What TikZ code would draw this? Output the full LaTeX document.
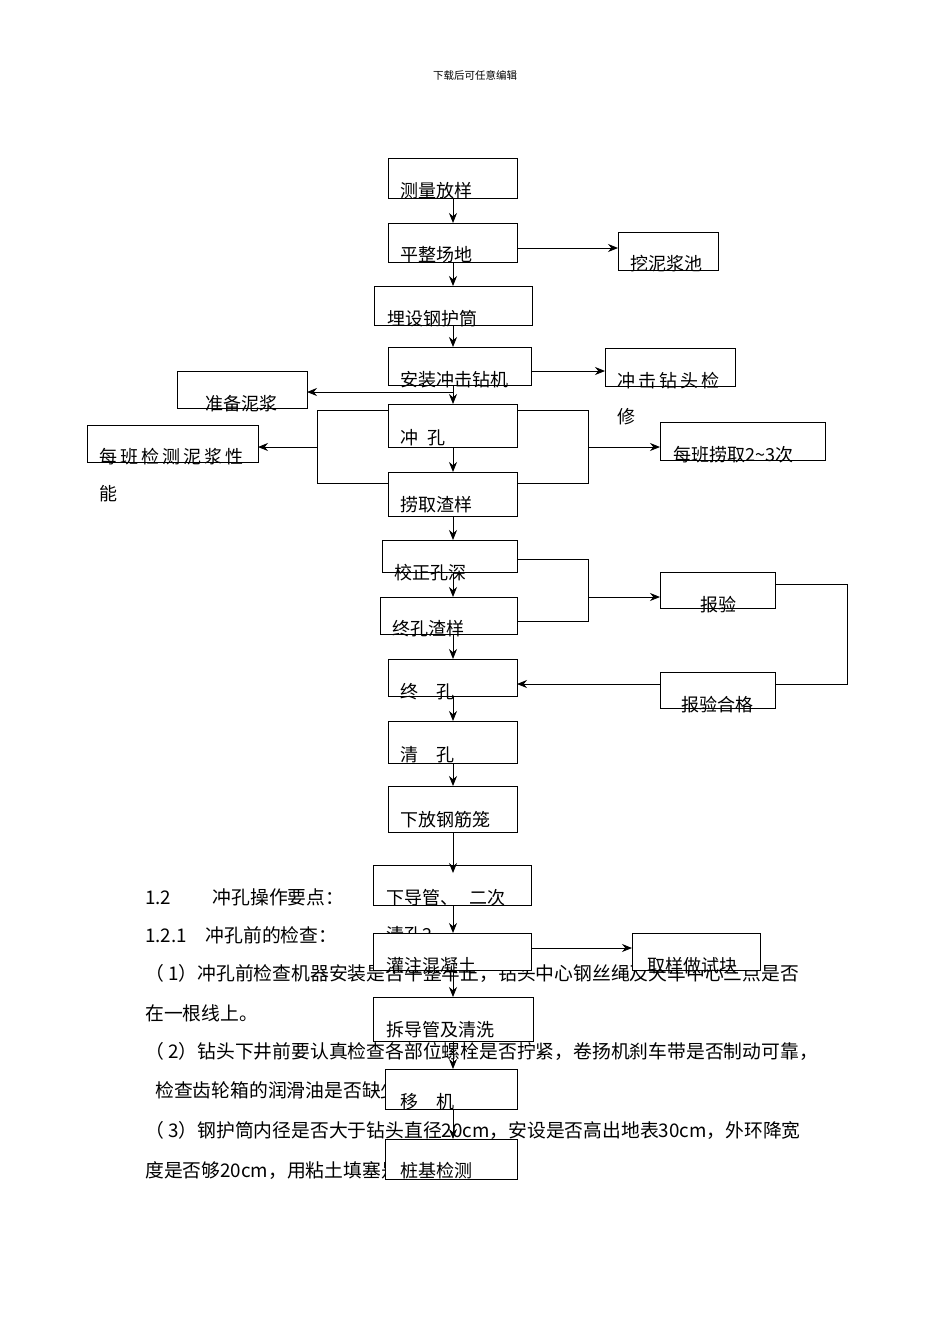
\documentclass[tikz,border=0pt]{standalone}
\usepackage{fontspec}
\setmainfont{Noto Sans CJK SC}
\usetikzlibrary{arrows.meta}
\tikzset{
  box/.style={draw,line width=0.9pt,fill=white,anchor=north west,inner sep=0pt,outer sep=0pt},
  lab/.style={anchor=base west,inner sep=0pt,font=\fontsize{18}{20}\selectfont},
  body/.style={anchor=base west,inner sep=0pt,font=\fontsize{18.8}{20}\selectfont},
  arr/.style={line width=0.9pt,-{Stealth[length=10pt,width=8pt]}},
  ln/.style={line width=0.9pt}
}
\newcommand{\bx}[5]{\node[box,minimum width=#4-#2,minimum height=#5-#3] (#1) at (#2,#3) {};}
\begin{document}
\begin{tikzpicture}[x=1pt,y=-1pt]
\useasboundingbox (0,0) rectangle (950,1344);
\node[anchor=base,font=\fontsize{10.5}{12}\selectfont] (hdr) at (475,79) {下载后可任意编辑};
% body text
\node[body] (t1) at (145,904) {1.2\hspace{2.2em}冲孔操作要点：};
\node[body] (t2) at (145,942) {1.2.1\hspace{1em}冲孔前的检查：};
\node[body] (t3) at (145,980) {（ 1）冲孔前检查机器安装是否平整牢正，钻头中心钢丝绳及天车中心三点是否};
\node[body] (t4) at (145,1020) {在一根线上。};
\node[body] (t5) at (145,1058) {（ 2）钻头下井前要认真检查各部位螺栓是否拧紧，卷扬机刹车带是否制动可靠，};
\node[body] (t6) at (155,1097) {检查齿轮箱的润滑油是否缺少};
\node[body] (t7) at (145,1137) {（ 3）钢护筒内径是否大于钻头直径20cm，安设是否高出地表30cm，外环降宽};
\node[body] (t8) at (145,1177) {度是否够20cm，用粘土填塞是否密实};
\coordinate (X) at (453,0);
% boxes
\bx{b1}{388}{158}{517}{198}\node[lab] at (400,197) {测量放样};
\bx{b2}{388}{223}{517}{262}\node[lab] at (400,261) {平整场地};
\bx{r1}{618}{232}{718}{270}\node[lab] at (630,270) {挖泥浆池};
\bx{b3}{374}{286}{532}{325}\node[lab] at (387,325) {埋设钢护筒};
\bx{b4}{388}{347}{531}{385}\node[lab] at (400,386) {安装冲击钻机};
\bx{r2}{605}{348}{735}{386}\node[lab] at (617,387) {冲\,击\,钻\,头\,检};\node[lab] at (617,423) {修};
\bx{l1}{177}{371}{307}{408}\node[lab] at (205,410) {准备泥浆};
\bx{b5}{388}{404}{517}{447}\node[lab] at (400,444) {冲\hspace{0.5em}孔};
\bx{l2}{87}{425}{258}{462}\node[lab] at (99,463) {每\,班\,检\,测\,泥\,浆\,性};\node[lab] at (99,500) {能};
\bx{r3}{660}{422}{825}{460}\node[lab] at (673,461) {每班捞取2\textasciitilde3次};
\bx{b6}{388}{472}{517}{516}\node[lab] at (400,511) {捞取渣样};
\bx{b7}{382}{540}{517}{572}\node[lab] at (394,579) {校正孔深};
\bx{b8}{380}{597}{517}{634}\node[lab] at (392,635) {终孔渣样};
\bx{r4}{660}{572}{775}{608}\node[lab] at (700,611) {报验};
\bx{b9}{388}{659}{517}{696}\node[lab] at (400,698) {终\hspace{1em}孔};
\bx{r5}{660}{672}{775}{708}\node[lab] at (681,711) {报验合格};
\bx{b10}{388}{721}{517}{763}\node[lab] at (400,761) {清\hspace{1em}孔};
\bx{b11}{388}{786}{517}{832}\node[lab] at (400,826) {下放钢筋笼};
\bx{b12}{373}{865}{531}{905}\node[lab] at (386,904) {下导管、\hspace{0.6em}二次};\node[lab] at (386,941) {清孔2};
\bx{b13}{373}{933}{531}{970}\node[lab] at (386,972) {灌注混凝土};
\bx{r6}{632}{933}{760}{970}\node[lab] at (647,972) {取样做试块};
\bx{b14}{373}{997}{533}{1041}\node[lab] at (386,1036) {拆导管及清洗};
\bx{b15}{385}{1069}{517}{1109}\node[lab] at (400,1108) {移\hspace{1em}机};
\bx{b16}{385}{1139}{517}{1179}\node[lab] at (400,1177) {桩基检测};
% main arrows
\foreach \a/\b in {b1/b2,b2/b3,b3/b4,b4/b5,b5/b6,b6/b7,b7/b8,b8/b9,b9/b10,b10/b11,b12/b13,b13/b14,b14/b15,b15/b16}
  \draw[arr] (\a.south -| X) -- (\b.north -| X);
\draw[arr] (b11.south -| X) -- ([yshift=-8pt]b12.north -| X);
% side arrows
\draw[arr] (b2.east |- 0,248) -- (r1.west |- 0,248);
\draw[arr] (b4.east |- 0,371) -- (r2.west |- 0,371);
\draw[arr] (453,392) -- (l1.east |- 0,392);
\draw[ln] (b5.west |- 0,410) -- (317,410) -- (317,483) -- (b6.west |- 0,483);
\draw[arr] (317,447) -- (l2.east |- 0,447);
\draw[ln] (b5.east |- 0,410) -- (588,410) -- (588,483) -- (b6.east |- 0,483);
\draw[arr] (588,447) -- (r3.west |- 0,447);
\draw[ln] (b7.east |- 0,559) -- (588,559) -- (588,621) -- (b8.east |- 0,621);
\draw[arr] (588,597) -- (r4.west |- 0,597);
\draw[ln] (r4.east |- 0,584) -- (847,584) -- (847,684) -- (r5.east |- 0,684);
\draw[arr] (r5.west |- 0,684) -- (b9.east |- 0,684);
\draw[arr] (b13.east |- 0,948) -- (r6.west |- 0,948);
\end{tikzpicture}
\end{document}
